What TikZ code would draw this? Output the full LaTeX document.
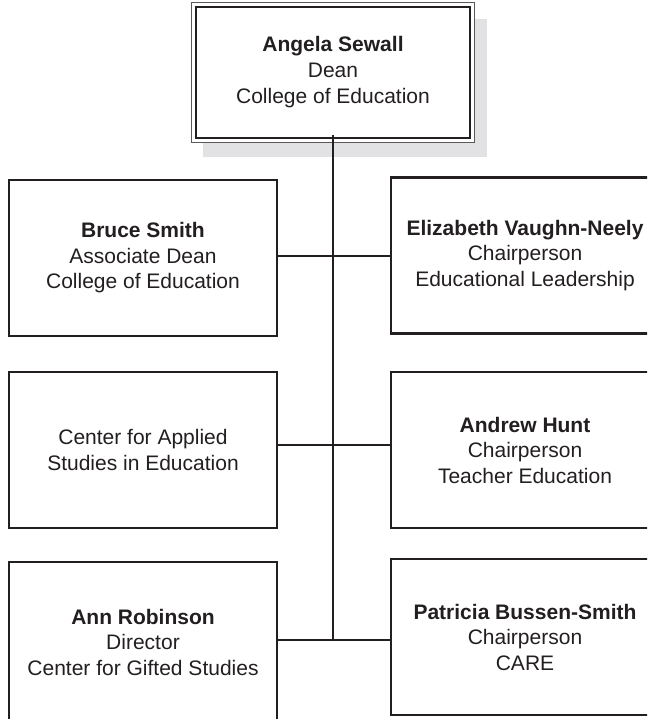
\documentclass[tikz,border=0pt]{standalone}
\usepackage{fontspec}
\setmainfont{Liberation Sans}
\usetikzlibrary{backgrounds}
\definecolor{ink}{HTML}{231F20}
\definecolor{shadowgray}{HTML}{E2E2E4}
\begin{document}
\begin{tikzpicture}[x=1pt,y=-1pt,
  box/.style={draw=ink, line width=2.2pt, fill=white, rectangle, minimum width=268pt, minimum height=156pt, inner sep=0pt, text=ink, align=center, font=\fontsize{21}{25.5}\selectfont},
  deanbox/.style={draw=ink, line width=1.5pt, fill=white, rectangle, minimum width=274pt, minimum height=131pt, inner sep=0pt, text=ink, align=center, font=\fontsize{21}{26}\selectfont},
  link/.style={draw=ink, line width=2.2pt}]
\useasboundingbox (0,0) rectangle (647,719);
\clip (0,0) rectangle (647,719);
% top box
\node[deanbox] (dean) at (333,72.5) {\textbf{Angela Sewall}\\Dean\\College of Education};
\begin{scope}[on background layer]
  \fill[shadowgray] ([shift={(8,13)}]dean.north west) rectangle ([shift={(16,18)}]dean.south east);
  \draw[draw=gray!70!black, line width=1.2pt, fill=white] ([shift={(-4,-4)}]dean.north west) rectangle ([shift={(4,4)}]dean.south east);
\end{scope}
% left column
\node[box] (bruce) at (143,258) {\textbf{Bruce Smith}\\Associate Dean\\College of Education};
\node[box] (case) at (143,450) {Center for Applied\\Studies in Education};
\node[box, minimum height=160pt] (ann) at (143,642) {\textbf{Ann Robinson}\\Director\\Center for Gifted Studies};
% right column
\node[box] (eliz) at (525,255.5) {\textbf{Elizabeth Vaughn-Neely}\\Chairperson\\Educational Leadership};
\node[box] (hunt) at (525,450) {\textbf{Andrew Hunt}\\Chairperson\\Teacher Education};
\node[box] (pat) at (525,637) {\textbf{Patricia Bussen-Smith}\\Chairperson\\CARE};
% connectors
\coordinate (j1) at (333,256);
\coordinate (j2) at (333,445);
\coordinate (j3) at (333,640);
\draw[link] ([yshift=4pt]dean.south) -- (j3);
\draw[link] (bruce.east |- j1) -- (eliz.west |- j1);
\draw[link] (case.east |- j2) -- (hunt.west |- j2);
\draw[link] (ann.east |- j3) -- (pat.west |- j3);
\end{tikzpicture}
\end{document}
